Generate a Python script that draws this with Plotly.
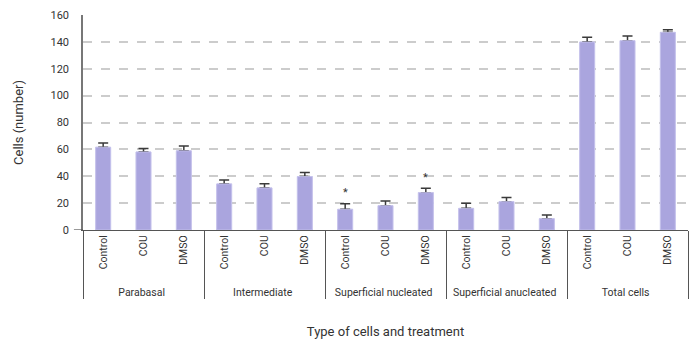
import plotly.graph_objects as go

groups = ["Parabasal", "Intermediate", "Superficial nucleated", "Superficial anucleated", "Total cells"]
treatments = ["Control", "COU", "DMSO"]
parabasal = [61.6, 58.1, 58.9]
intermediate = [34.3, 31.3, 39.8]
sup_nucleated = [15.4, 18.1, 27.8]
sup_anucleated = [16.1, 21.1, 8.4]
total_cells = [139.9, 140.9, 147.1]
err_parabasal = [3.2, 2.5, 3.7]
err_intermediate = [3.0, 3.2, 2.9]
err_sup_nucleated = [4.2, 3.5, 3.3]
err_sup_anucleated = [3.8, 3.0, 2.8]
err_total_cells = [3.5, 3.4, 2.0]
significant = [(2, 0), (2, 2)]  # (group index, treatment index) marked with *
yticks = [0, 20, 40, 60, 80, 100, 120, 140, 160]

values_by_group = [parabasal, intermediate, sup_nucleated, sup_anucleated, total_cells]
errors_by_group = [err_parabasal, err_intermediate, err_sup_nucleated, err_sup_anucleated, err_total_cells]

PAD = "\u00a0\u00a0"  # keeps the group row a little further from the rotated labels
outer, inner, vals, errs = [], [], [], []
for g, v, e in zip(groups, values_by_group, errors_by_group):
    for t, vv, ee in zip(treatments, v, e):
        outer.append(g)
        inner.append(PAD + t)
        vals.append(vv)
        errs.append(ee)

FONT = "Roboto, Liberation Sans, sans-serif"
BAR = "#aaa5de"

fig = go.Figure()
fig.add_trace(go.Bar(
    x=[outer, inner], y=vals, width=0.37,
    marker=dict(color=BAR, line=dict(color="#c9c6ee", width=0.8)),
    error_y=dict(type="data", array=errs, arrayminus=[0] * len(errs), symmetric=False,
                 color="#3a3a3a", thickness=1.5, width=5),
    showlegend=False, hoverinfo="skip",
))
fig.add_trace(go.Bar(
    x=[outer, inner], y=vals, width=0.37,
    marker=dict(color=BAR, line=dict(color="#c9c6ee", width=0.8)),
    showlegend=False,
))

for gi, ti in significant:
    fig.add_annotation(
        x=len(treatments) * gi + ti,
        y=values_by_group[gi][ti] + errors_by_group[gi][ti] + 8,
        text="*", showarrow=False, font=dict(family=FONT, size=11, color="#333"),
        xref="x", yref="y",
    )

# page body has an 8px default margin; size/margins compensate for it
fig.update_layout(
    width=690, height=335,
    margin=dict(l=75, r=10, t=7, b=113),
    paper_bgcolor="white", plot_bgcolor="white",
    barmode="overlay",
    font=dict(family=FONT, size=11, color="#333"),
)
fig.update_xaxes(
    type="multicategory", tickangle=-90, automargin=False,
    showline=True, linecolor="#555", linewidth=1.2,
    showdividers=True, dividercolor="#555", dividerwidth=1.2,
    ticks="", showgrid=False,
    tickfont=dict(family=FONT, size=10.5, color="#333"),
    title=dict(text="Type of cells and treatment", font=dict(family=FONT, size=13, color="#333"), standoff=29),
)
fig.update_yaxes(
    range=[0, 160], tickvals=yticks, ticktext=[str(t) for t in yticks], automargin=False,
    showline=True, linecolor="#777", linewidth=1.5,
    showgrid=True, gridcolor="#cccccc", griddash="dash", gridwidth=1.5,
    zeroline=False, ticks="", ticklabelstandoff=10,
    tickfont=dict(family=FONT, size=11, color="#333"),
    title=dict(text="Cells (number)", font=dict(family=FONT, size=13, color="#333"), standoff=24),
)
fig.add_shape(type="line", xref="paper", yref="y", x0=-0.015, x1=0, y0=0, y1=0,
              line=dict(color="#555", width=1.2))

fig.write_html("out.html")
